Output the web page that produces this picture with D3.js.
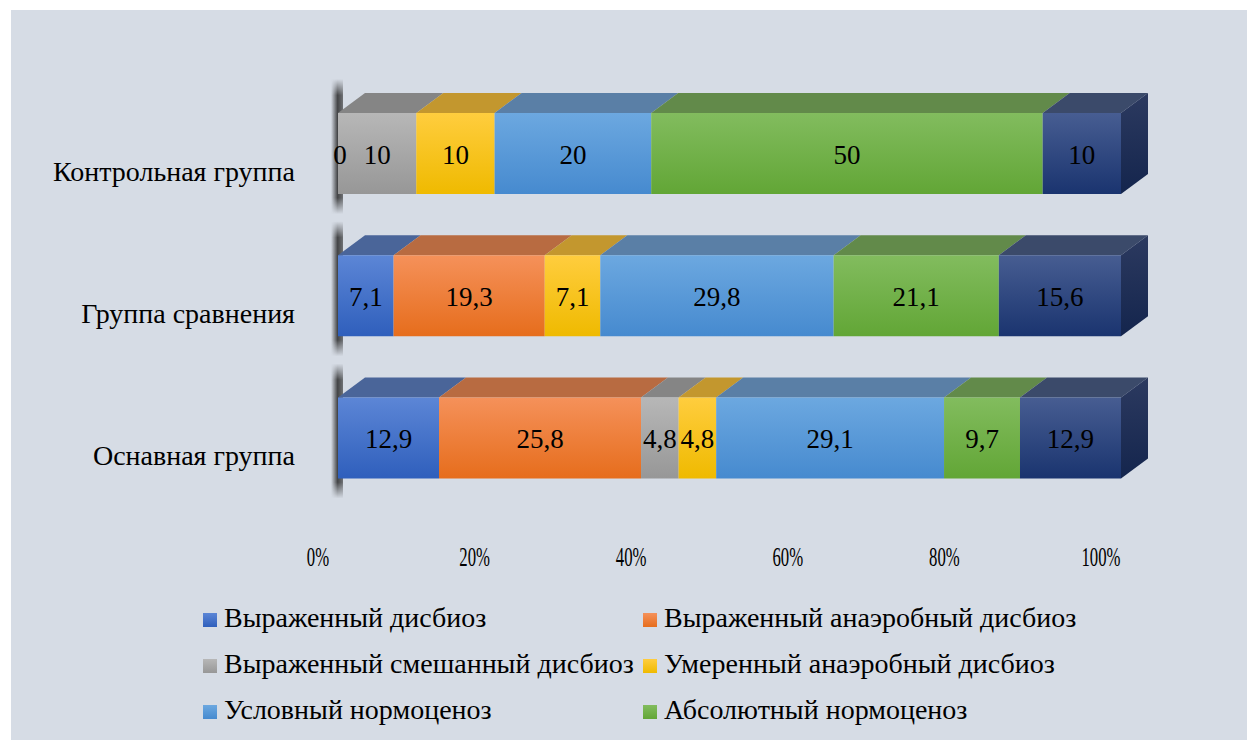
<!DOCTYPE html>
<html><head><meta charset="utf-8"><script src="https://cdn.jsdelivr.net/npm/d3@7"></script></head>
<body style="margin:0">
<svg id="chart" width="1247" height="740"></svg>
<script>
// Groups (top to bottom) and the share of each microbiota state, %
const categories = ["Контрольная группа", "Группа сравнения", "Оснавная группа"];
const seriesNames = [
  "Выраженный дисбиоз",
  "Выраженный анаэробный дисбиоз",
  "Выраженный смешанный дисбиоз",
  "Умеренный анаэробный дисбиоз",
  "Условный нормоценоз",
  "Абсолютный нормоценоз",
  "Прочие"
];
// null = no value recorded (no label drawn)
const vyrazhDisbioz    = [0,    7.1,  12.9];
const anaerobDisbioz   = [null, 19.3, 25.8];
const smeshDisbioz     = [10,   null, 4.8];
const umerAnaerob      = [10,   7.1,  4.8];
const uslNormocenoz    = [20,   29.8, 29.1];
const absNormocenoz    = [50,   21.1, 9.7];
const prochie          = [10,   15.6, 12.9];
const seriesValues = [vyrazhDisbioz, anaerobDisbioz, smeshDisbioz, umerAnaerob, uslNormocenoz, absNormocenoz, prochie];
const tickValues = [0, 20, 40, 60, 80, 100];
const legendCount = 6;

// Face colours: front gradient (light, dark), top face
const palette = [
  { hi: "#5c86d6", lo: "#2f5fbc", top: "#4a6599" },
  { hi: "#f5915a", lo: "#e66d1c", top: "#b86b41" },
  { hi: "#b7b7b7", lo: "#979797", top: "#858585" },
  { hi: "#ffcd3e", lo: "#efba00", top: "#c3972e" },
  { hi: "#6ca8e0", lo: "#468acf", top: "#5a7fa6" },
  { hi: "#82bc5e", lo: "#62a636", top: "#628a4a" },
  { hi: "#475d92", lo: "#1a346f", top: "#3b4a6a" }
];

const svg = d3.select("#chart");
const W = 1247, H = 740;

// Chart panel
svg.append("rect").attr("x", 11).attr("y", 10).attr("width", W - 11).attr("height", H - 10).attr("fill", "#d6dce5");

const defs = svg.append("defs");
palette.forEach((p, i) => {
  const g = defs.append("linearGradient").attr("id", "grad" + i).attr("x1", 0).attr("y1", 0).attr("x2", 0).attr("y2", 1);
  g.append("stop").attr("offset", "0%").attr("stop-color", p.hi);
  g.append("stop").attr("offset", "100%").attr("stop-color", p.lo);
});
const side = defs.append("linearGradient").attr("id", "sideGrad").attr("x1", 0).attr("y1", 0).attr("x2", 0).attr("y2", 1);
side.append("stop").attr("offset", "0%").attr("stop-color", "#2c3a60");
side.append("stop").attr("offset", "100%").attr("stop-color", "#14254d");
// soft horizontal fade for the shadow at the left end of each bar
const shade = defs.append("linearGradient").attr("id", "shade").attr("x1", 0).attr("y1", 0).attr("x2", 1).attr("y2", 0);
shade.append("stop").attr("offset", "0%").attr("stop-color", "#2a2a2a").attr("stop-opacity", 0);
shade.append("stop").attr("offset", "55%").attr("stop-color", "#2a2a2a").attr("stop-opacity", 0.85);
shade.append("stop").attr("offset", "100%").attr("stop-color", "#2a2a2a").attr("stop-opacity", 0.6);
const shadeV = defs.append("linearGradient").attr("id", "shadeV").attr("x1", 0).attr("y1", 0).attr("x2", 0).attr("y2", 1);
shadeV.append("stop").attr("offset", "0%").attr("stop-color", "#fff").attr("stop-opacity", 0);
shadeV.append("stop").attr("offset", "12%").attr("stop-color", "#fff").attr("stop-opacity", 1);
shadeV.append("stop").attr("offset", "88%").attr("stop-color", "#fff").attr("stop-opacity", 1);
shadeV.append("stop").attr("offset", "100%").attr("stop-color", "#fff").attr("stop-opacity", 0);
const mask = defs.append("mask").attr("id", "shadeMask").attr("maskContentUnits", "objectBoundingBox");
mask.append("rect").attr("width", 1).attr("height", 1).attr("fill", "url(#shadeV)");

// Scales
const x = d3.scaleLinear().domain([0, 100]).range([338, 1121]);
const y = d3.scalePoint().domain(categories).range([153.5, 438]);
const barH = 81;
const dx = 27, dy = 20;

// Stack the series per group
const rows = categories.map((c, ci) => {
  let acc = 0;
  return seriesValues.map((arr, si) => {
    const v = arr[ci];
    const x0 = acc;
    acc += (v == null ? 0 : v);
    return { cat: c, si, v, x0, x1: acc };
  });
});

const plot = svg.append("g");

rows.forEach(segs => {
  const cy = y(segs[0].cat);
  const top = cy - barH / 2, bot = cy + barH / 2;
  const g = plot.append("g");

  // shadow behind the left end
  g.append("rect")
    .attr("x", x(0) - 7).attr("y", top - dy - 14)
    .attr("width", 12).attr("height", barH + dy + 34)
    .attr("fill", "url(#shade)")
    .attr("mask", "url(#shadeMask)");

  // top faces
  g.selectAll("path.top").data(segs).join("path")
    .attr("class", "top")
    .attr("d", d => {
      const a = x(d.x0), b = x(d.x1);
      return `M${a},${top} L${a + dx},${top - dy} L${b + dx},${top - dy} L${b},${top} Z`;
    })
    .attr("fill", d => palette[d.si].top);

  // front faces
  g.selectAll("rect.front").data(segs).join("rect")
    .attr("class", "front")
    .attr("x", d => x(d.x0)).attr("y", top)
    .attr("width", d => x(d.x1) - x(d.x0)).attr("height", barH)
    .attr("fill", d => `url(#grad${d.si})`);

  // right end face
  const end = x(segs[segs.length - 1].x1);
  g.append("path")
    .attr("d", `M${end},${top} L${end + dx},${top - dy} L${end + dx},${bot - dy} L${end},${bot} Z`)
    .attr("fill", "url(#sideGrad)");

  // value labels
  g.selectAll("text.val").data(segs.filter(d => d.v != null)).join("text")
    .attr("class", "val")
    .attr("x", d => (x(d.x0) + x(d.x1)) / 2 + (d.v === 0 ? 2 : 0))
    .attr("y", cy + 10)
    .attr("font-size", 27)
    .style("font-family", "\"Liberation Serif\"")
    .attr("text-anchor", "middle")
    .text(d => String(d.v).replace(".", ","));
});

// category labels
svg.append("g").selectAll("text").data(categories).join("text")
  .attr("x", 295).attr("y", d => y(d) + 27)
  .attr("font-size", 28)
  .style("font-family", "\"Liberation Serif\"")
  .attr("text-anchor", "end")
  .text(d => d);

// value axis labels
svg.append("g").selectAll("text").data(tickValues).join("text")
  .attr("transform", d => `translate(${x(d) - 20},566) scale(0.62,1)`)
  .attr("font-size", 27)
  .style("font-family", "\"Liberation Serif\"")
  .attr("text-anchor", "middle")
  .text(d => d + "%");

// legend
const legendCols = [203, 643];
const legendRows = [627, 673, 719];
const leg = svg.append("g").selectAll("g").data(seriesNames.slice(0, legendCount)).join("g")
  .attr("transform", (d, i) => `translate(${legendCols[i % 2]},${legendRows[Math.floor(i / 2)]})`);
leg.append("rect").attr("x", 0).attr("y", -14).attr("width", 14).attr("height", 14)
  .attr("fill", (d, i) => `url(#grad${i})`);
leg.append("text")
  .attr("x", 21).attr("y", 0)
  .attr("font-size", 28)
  .style("font-family", "\"Liberation Serif\"")
  .text(d => d);
</script>
</body></html>
